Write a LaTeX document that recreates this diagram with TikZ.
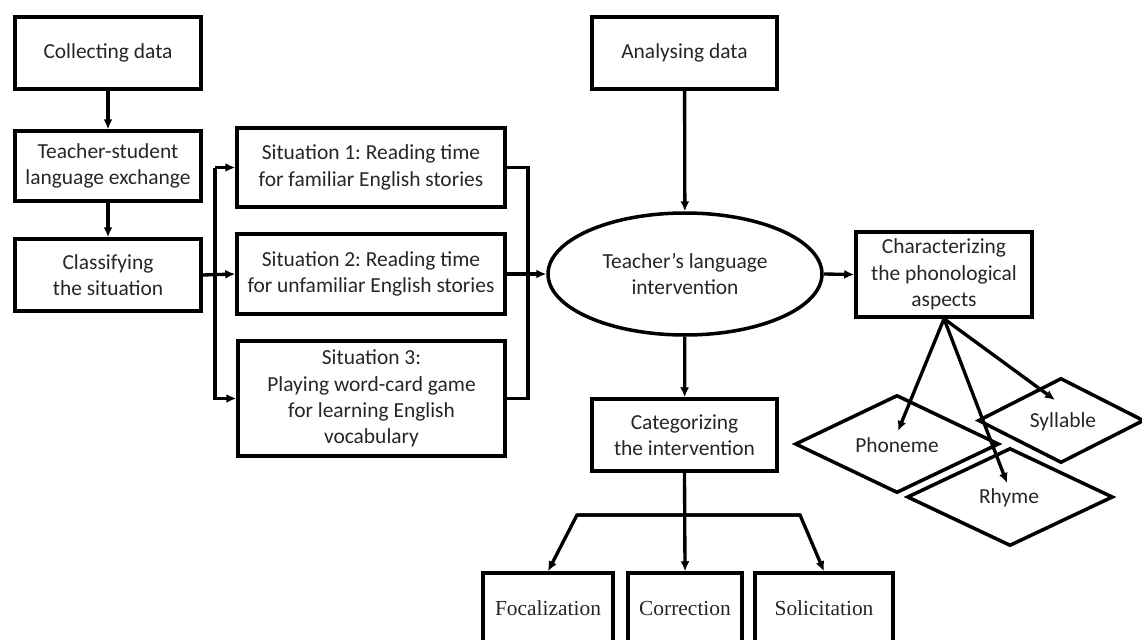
\documentclass[tikz,border=0pt]{standalone}
\usepackage{fontspec}
\setmainfont{Carlito}
\newfontfamily\timesfont{Liberation Serif}
\usetikzlibrary{shapes.geometric,arrows.meta}
\frenchspacing
\begin{document}
\begin{tikzpicture}[x=0.02cm,y=-0.02cm,
  every node/.style={font=\fontsize{12.2}{15}\selectfont, align=center, text=black!85},
  box/.style={draw, line width=2pt, inner sep=2pt},
  ell/.style={ellipse, draw, line width=2pt, inner sep=0pt},
  dia/.style={diamond, draw, line width=2pt, inner sep=0pt},
  conn/.style={line width=1.9pt},
  arr/.style={line width=1.9pt, -{Latex[length=2mm,width=1.8mm]}},
  lbl/.style={inner sep=0pt},
  tbox/.style={draw, line width=2pt, inner sep=2pt, font=\timesfont\fontsize{12.2}{15}\selectfont}]
\useasboundingbox (0,0) rectangle (1142,639);
\clip (0,0) rectangle (1142,639);

% left column
\node[box, minimum width=3.72cm, minimum height=1.44cm] (collect) at (108,53) {Collecting data};
\node[box, minimum width=3.72cm, minimum height=1.40cm] (teach) at (108,166) {Teacher-student\\language exchange};
\node[box, minimum width=3.72cm, minimum height=1.44cm] (classify) at (108,275) {Classifying\\the situation};

% situations
\node[box, minimum width=5.36cm, minimum height=1.58cm] (sit1) at (371,167.5) {Situation 1: Reading time\\for familiar English stories};
\node[box, minimum width=5.36cm, minimum height=1.60cm] (sit2) at (371,274) {Situation 2: Reading time\\for unfamiliar English stories};
\node[box, minimum width=5.34cm, minimum height=2.30cm] (sit3) at (371.5,398.5) {Situation 3:\\Playing word-card game\\for learning English\\vocabulary};

% centre column
\node[box, minimum width=3.70cm, minimum height=1.44cm] (analyse) at (684.5,53) {Analysing data};
\node[ell, minimum width=5.48cm, minimum height=2.44cm] (tli) at (685,274) {Teacher’s language\\intervention};
\node[box, minimum width=3.70cm, minimum height=1.44cm] (categ) at (684.5,435) {Categorizing\\the intervention};

% right
\node[box, minimum width=3.52cm, minimum height=1.70cm] (charac) at (944,274.5) {Characterizing\\the phonological\\aspects};

% diamonds
\node[dia, minimum width=4.08cm, minimum height=1.96cm] (phon) at (897,444) {};
\node[dia, minimum width=3.32cm, minimum height=1.70cm] (syll) at (1061,420.5) {};
\node[dia, minimum width=4.12cm, minimum height=1.96cm] (rhyme) at (1010,497) {};
\node[lbl] (phonT) at (897,445) {Phoneme};
\node[lbl] (syllT) at (1063,422) {Syllable};
\node[lbl] (rhymeT) at (1009,498) {Rhyme};

% bottom boxes (cut by the lower edge)
\node[tbox, minimum width=2.60cm, minimum height=1.48cm] (foc) at (548,610) {\strut Focalization};
\node[tbox, minimum width=2.28cm, minimum height=1.48cm] (corr) at (685,610) {\strut Correction};
\node[tbox, minimum width=2.76cm, minimum height=1.48cm] (sol) at (824,610) {\strut Solicitation};

% coordinates
\coordinate (lx) at (215,0);
\coordinate (rx) at (528,0);
\coordinate (bl) at (577,515);
\coordinate (br) at (800,515);
\coordinate (tipP) at (898,431);
\coordinate (tipS) at (1055,400);
\coordinate (tipR) at (1007,483);

% connectors
\draw[arr] (collect) -- (teach);
\draw[arr] (teach) -- (classify);
\draw[arr] (classify.east) -- (sit2.west);
\draw[arr] (sit1.west -| lx) -- (sit1.west);
\draw[arr] (sit1.west -| lx) |- (sit3.west);
\draw[conn] (sit1.east) -| (sit3.east -| rx) -- (sit3.east);
\draw[arr] (sit2.east) -- (tli.west);
\draw[arr] (analyse) -- (tli);
\draw[arr] (tli.east) -- (charac.west);
\draw[arr] (tli) -- (categ);
\draw[arr] (categ.south) -- (corr.north);
\draw[arr] (br) -- (bl) -- (foc.north);
\draw[arr] (bl) -- (br) -- (sol.north);
\draw[arr] (charac.south) -- (tipP);
\draw[arr] (charac.south) -- (tipR);
\draw[arr] (charac.south) -- (tipS);
\end{tikzpicture}
\end{document}
